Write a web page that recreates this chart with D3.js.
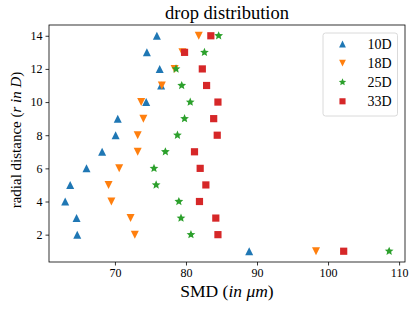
<!DOCTYPE html>
<html>
<head>
<meta charset="utf-8">
<script src="https://cdn.jsdelivr.net/npm/d3@7"></script>
<style>
  body { margin: 0; background: #fff; }
  text { font-family: "Liberation Serif", "DejaVu Serif", serif; }
</style>
</head>
<body>
<div id="my_dataviz"></div>
<script>
// radial positions
var radial = [1,2,3,4,5,6,7,8,9,10,11,12,13,14];

// SMD values per series, same order as radial
var smd10 = [88.9, 64.7, 64.6, 63.0, 63.7, 66.0, 68.2, 70.1, 70.4, 74.4, 76.5, 76.3, 74.5, 75.9];
var smd18 = [98.3, 72.8, 72.2, 69.5, 69.1, 70.6, 73.2, 73.2, 74.0, 73.7, 76.6, 78.4, 79.5, 81.8];
var smd25 = [108.6, 80.7, 79.3, 79.0, 75.8, 75.5, 77.1, 78.8, 79.8, 80.6, 79.4, 78.6, 82.6, 84.6];
var smd33 = [102.2, 84.5, 84.2, 81.9, 82.8, 82.0, 81.2, 84.4, 83.9, 84.5, 82.9, 82.3, 79.8, 83.5];

var seriesNames = ["10D", "18D", "25D", "33D"];
var xTicks = [70, 80, 90, 100, 110];
var yTicks = [2, 4, 6, 8, 10, 12, 14];

function plot(){
    document.getElementById("my_dataviz").innerHTML = '';

    var margin = {top: 25, right: 11, bottom: 49, left: 49},
    width = 416 - margin.left - margin.right,
    height = 311 - margin.top - margin.bottom;

    var root = d3.select("#my_dataviz")
        .append("svg")
            .attr("width", 416)
            .attr("height", 311);
    var svg = root.append("g")
            .attr("transform", "translate(" + margin.left + "," + margin.top + ")");

    var xScale = d3.scaleLinear().domain([60.72, 110.83]).range([0, width]);
    var yScale = d3.scaleLinear().domain([0.35, 14.65]).range([height, 0]);

    // marker shapes (matplotlib style)
    function triUp(h){ return "M0," + (-h) + "L" + h + "," + h + "L" + (-h) + "," + h + "Z"; }
    function triDown(h){ return "M0," + h + "L" + h + "," + (-h) + "L" + (-h) + "," + (-h) + "Z"; }
    function square(h){ return "M" + (-h) + "," + (-h) + "H" + h + "V" + h + "H" + (-h) + "Z"; }
    function star(R){
        var r = R * 0.45, p = [];
        for (var i = 0; i < 10; i++) {
            var a = -Math.PI/2 + i * Math.PI/5, rr = i % 2 ? r : R;
            p.push([rr*Math.cos(a), rr*Math.sin(a)]);
        }
        return "M" + p.map(function(d){ return d[0].toFixed(2) + "," + d[1].toFixed(2); }).join("L") + "Z";
    }

    var series = [
        {name: seriesNames[0], values: smd10, color: "#1f77b4", path: triUp(4)},
        {name: seriesNames[1], values: smd18, color: "#ff7f0e", path: triDown(4)},
        {name: seriesNames[2], values: smd25, color: "#2ca02c", path: star(4.6)},
        {name: seriesNames[3], values: smd33, color: "#d62728", path: square(3.6)}
    ];

    // axes
    var xAxis = svg.append("g")
        .attr("transform", "translate(0," + height + ")")
        .call(d3.axisBottom(xScale).tickValues(xTicks).tickSize(3.5).tickPadding(3));
    var yAxis = svg.append("g")
        .call(d3.axisLeft(yScale).tickValues(yTicks).tickSize(3.5).tickPadding(3));
    [xAxis, yAxis].forEach(function(a){
        a.select(".domain").remove();
        a.selectAll(".tick line").attr("stroke", "#000").attr("stroke-width", 0.8);
        a.selectAll(".tick text").attr("font-family", "Liberation Serif, serif")
            .attr("font-size", 12).attr("fill", "#000");
    });

    // frame
    svg.append("rect")
        .attr("width", width).attr("height", height)
        .attr("fill", "none").attr("stroke", "#000").attr("stroke-width", 0.8);

    // points
    series.forEach(function(s){
        svg.append("g").selectAll("path")
            .data(s.values)
            .enter()
            .append("path")
                .attr("d", s.path)
                .attr("fill", s.color)
                .attr("transform", function(d, i){
                    return "translate(" + xScale(d) + "," + yScale(radial[i]) + ")";
                });
    });

    // legend
    var lg = svg.append("g").attr("transform", "translate(" + (width - 82) + ",8)");
    lg.append("rect")
        .attr("width", 74.5).attr("height", 83).attr("rx", 2.5)
        .attr("fill", "#fff").attr("fill-opacity", 0.8)
        .attr("stroke", "#d0d0d0").attr("stroke-width", 0.8);
    series.forEach(function(s, i){
        var row = lg.append("g").attr("transform", "translate(0," + (11 + i * 19.1) + ")");
        row.append("path").attr("d", s.path).attr("fill", s.color)
            .attr("transform", "translate(19.5,0) scale(0.85)");
        row.append("text").attr("x", 68.5).attr("y", 5)
            .attr("text-anchor", "end").attr("font-size", 14)
            .text(s.name);
    });

    // title
    root.append("text")
        .attr("x", margin.left + width/2).attr("y", 19)
        .attr("text-anchor", "middle").attr("font-size", 18.5)
        .text("drop distribution");

    // x label
    var xl = root.append("text")
        .attr("x", margin.left + width/2).attr("y", 297)
        .attr("text-anchor", "middle").attr("font-size", 17.5);
    xl.append("tspan").text("SMD (");
    xl.append("tspan").attr("font-style", "italic").text("in \u03bcm");
    xl.append("tspan").text(")");

    // y label
    var yl = root.append("text")
        .attr("transform", "translate(21,140) rotate(-90)")
        .attr("text-anchor", "middle").attr("font-size", 15);
    yl.append("tspan").text("radial distance (");
    yl.append("tspan").attr("font-style", "italic").text("r in D");
    yl.append("tspan").text(")");
}

window.addEventListener("load", plot);
</script>
</body>
</html>
